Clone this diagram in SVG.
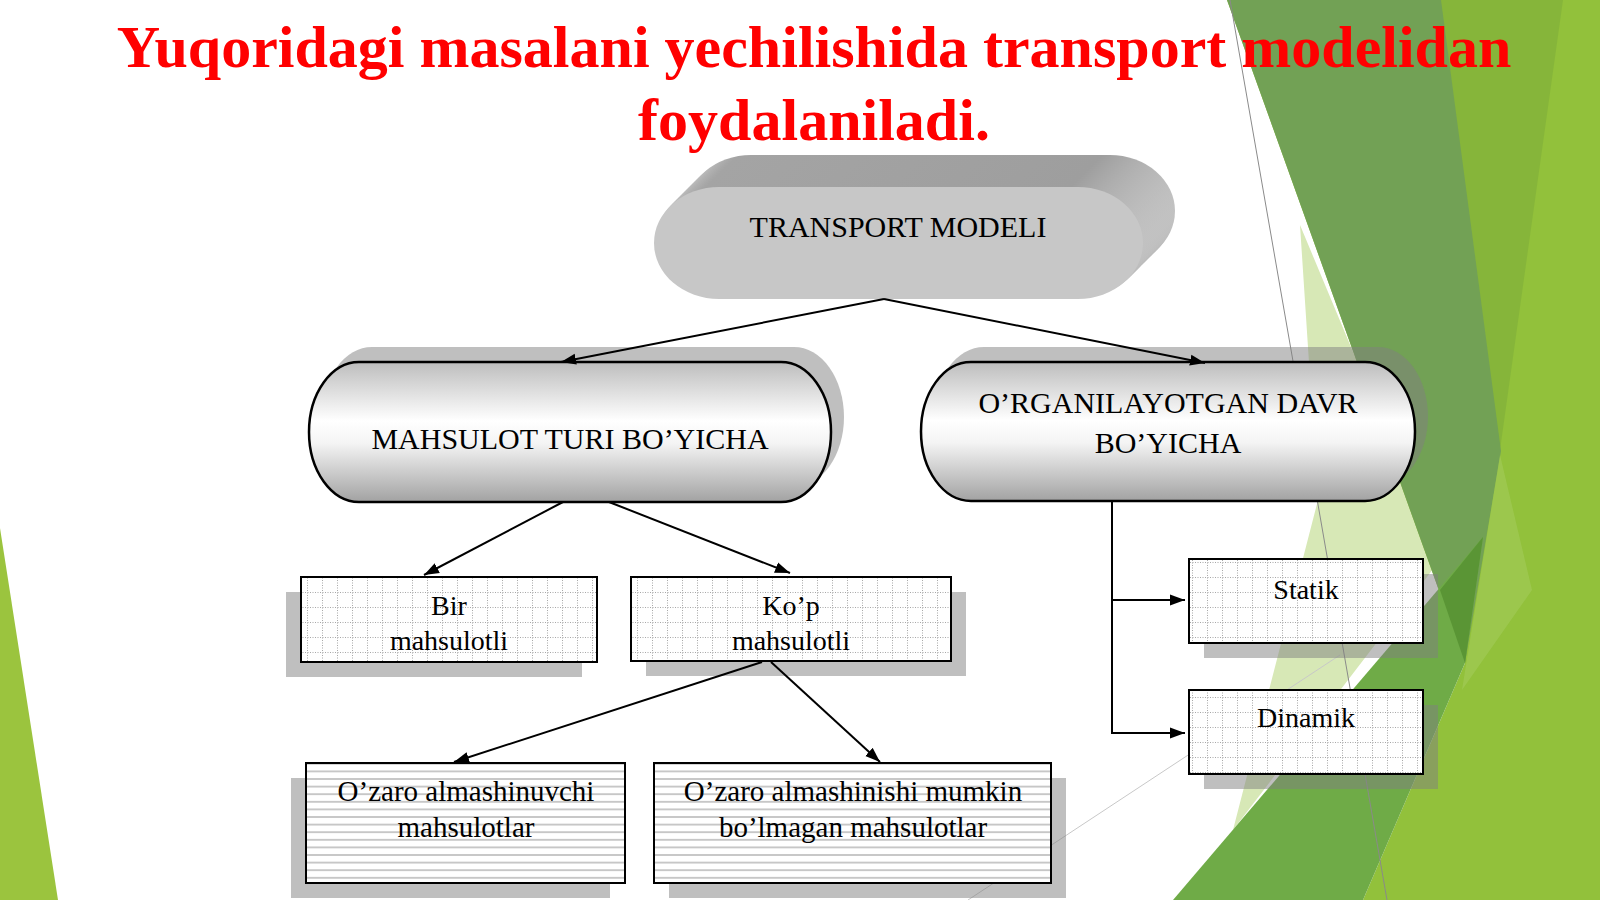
<svg xmlns="http://www.w3.org/2000/svg" width="1600" height="900" viewBox="0 0 1600 900">
<defs>
<style>
.t{font-family:"Liberation Serif","Times New Roman",serif;fill:#000;text-anchor:middle}
.e{font-size:30px}
.b{font-size:28px}
.c{font-size:29px}
.ttl{font-family:"Liberation Serif","Times New Roman",serif;font-weight:bold;font-size:60px;fill:#ff0000;text-anchor:middle}
.box{stroke:#000;stroke-width:2}
.sh{fill:#808080;fill-opacity:0.5}
.ln{stroke:#000;stroke-width:2;fill:none}
.ar{marker-end:url(#arr)}
.ex{fill:url(#ext)}
</style>
<linearGradient id="cyl" x1="0" y1="0" x2="0" y2="1">
<stop offset="0" stop-color="#bdbdbd"/>
<stop offset="0.42" stop-color="#ffffff"/>
<stop offset="0.58" stop-color="#f4f4f4"/>
<stop offset="1" stop-color="#a2a2a2"/>
</linearGradient>
<linearGradient id="ext" x1="0" y1="0" x2="1" y2="0">
<stop offset="0" stop-color="#cacaca"/>
<stop offset="0.1" stop-color="#a4a4a4"/>
<stop offset="0.85" stop-color="#9e9e9e"/>
<stop offset="1" stop-color="#c2c2c2"/>
</linearGradient>
<pattern id="grid" width="15" height="15" patternUnits="userSpaceOnUse">
<rect width="15" height="15" fill="#fff"/>
<path d="M0 7.5H15M7.5 0V15" stroke="#a8a8a8" stroke-width="1" stroke-dasharray="1 1.5"/>
</pattern>
<pattern id="lines" width="10" height="7.6" patternUnits="userSpaceOnUse">
<rect width="10" height="7.6" fill="#fff"/>
<path d="M0 3.8H10" stroke="#a6a6a6" stroke-width="1.2"/>
</pattern>
<marker id="arr" markerUnits="userSpaceOnUse" markerWidth="16" markerHeight="12" refX="15" refY="6" orient="auto">
<path d="M0 0.5L15 6L0 11.5z" fill="#000"/>
</marker>
</defs>

<g id="background">
<rect width="1600" height="900" fill="#fff"/>
<polygon points="0,528 58,900 0,900" fill="#9bc43e"/>
<polygon points="1300,225 1440,560 1233,830 1318,500" fill="#d7e8b6"/>
<polygon points="1227,0 1600,0 1600,900 1363,900 1465,663" fill="#92c13b"/>
<polygon points="1438,0 1563,0 1500,450" fill="#86b53a"/>
<polygon points="1227,0 1441,0 1501,451 1465,663" fill="#72a155"/>
<polygon points="1500,455 1532,590 1462,690" fill="#a3cb5a" fill-opacity="0.6"/>
<polygon points="1173,900 1483,537 1465,663 1363,900" fill="#6fab47"/>
<polygon points="1440,590 1483,537 1465,663" fill="#5a9535"/>
<line x1="1230" y1="0" x2="1387" y2="900" stroke="#8a8a8a" stroke-width="1"/>
<line x1="968" y1="900" x2="1340" y2="655" stroke="#c8c8c8" stroke-width="1"/>
</g>

<g id="title">
<text class="ttl" x="814" y="67">Yuqoridagi masalani yechilishida transport modelidan</text>
<text class="ttl" x="814" y="140">foydalaniladi.</text>
</g>

<g id="transport-modeli">
<rect class="ex" x="686" y="155" width="489" height="112" rx="65" ry="56"/>
<rect class="ex" x="684" y="157" width="489" height="112" rx="65" ry="56"/>
<rect class="ex" x="682" y="159" width="489" height="112" rx="65" ry="56"/>
<rect class="ex" x="680" y="161" width="489" height="112" rx="65" ry="56"/>
<rect class="ex" x="678" y="163" width="489" height="112" rx="65" ry="56"/>
<rect class="ex" x="676" y="165" width="489" height="112" rx="65" ry="56"/>
<rect class="ex" x="674" y="167" width="489" height="112" rx="65" ry="56"/>
<rect class="ex" x="672" y="169" width="489" height="112" rx="65" ry="56"/>
<rect class="ex" x="670" y="171" width="489" height="112" rx="65" ry="56"/>
<rect class="ex" x="668" y="173" width="489" height="112" rx="65" ry="56"/>
<rect class="ex" x="666" y="175" width="489" height="112" rx="65" ry="56"/>
<rect class="ex" x="664" y="177" width="489" height="112" rx="65" ry="56"/>
<rect class="ex" x="662" y="179" width="489" height="112" rx="65" ry="56"/>
<rect class="ex" x="660" y="181" width="489" height="112" rx="65" ry="56"/>
<rect class="ex" x="658" y="183" width="489" height="112" rx="65" ry="56"/>
<rect class="ex" x="656" y="185" width="489" height="112" rx="65" ry="56"/>
<rect x="654" y="187" width="489" height="112" rx="65" ry="56" fill="#c7c7c7"/>
<text class="t e" x="898" y="237">TRANSPORT MODELI</text>
</g>

<g id="mahsulot-turi">
<rect class="sh" x="322" y="347" width="522" height="140" rx="50" ry="70"/>
<rect x="309" y="362" width="522" height="140" rx="50" ry="70" fill="url(#cyl)" stroke="#000" stroke-width="2.5"/>
<text class="t e" x="570" y="449">MAHSULOT TURI BO’YICHA</text>
</g>

<g id="organilayotgan-davr">
<rect class="sh" x="934" y="347" width="494" height="139" rx="50" ry="70"/>
<rect x="921" y="362" width="494" height="139" rx="50" ry="70" fill="url(#cyl)" stroke="#000" stroke-width="2.5"/>
<text class="t e" x="1168" y="413">O’RGANILAYOTGAN DAVR</text>
<text class="t e" x="1168" y="453">BO’YICHA</text>
</g>

<g id="bir-mahsulotli">
<rect class="sh" x="286" y="592" width="296" height="85"/>
<rect class="box" x="301" y="577" width="296" height="85" fill="url(#grid)"/>
<text class="t b" x="449" y="615">Bir</text>
<text class="t b" x="449" y="650">mahsulotli</text>
</g>

<g id="kop-mahsulotli">
<rect class="sh" x="646" y="592" width="320" height="84"/>
<rect class="box" x="631" y="577" width="320" height="84" fill="url(#grid)"/>
<text class="t b" x="791" y="615">Ko’p</text>
<text class="t b" x="791" y="650">mahsulotli</text>
</g>

<g id="ozaro-almashinuvchi">
<rect class="sh" x="291" y="778" width="319" height="120"/>
<rect class="box" x="306" y="763" width="319" height="120" fill="url(#lines)"/>
<text class="t c" x="466" y="801">O’zaro almashinuvchi</text>
<text class="t c" x="466" y="837">mahsulotlar</text>
</g>

<g id="ozaro-almashinishi-mumkin-bolmagan">
<rect class="sh" x="669" y="778" width="397" height="120"/>
<rect class="box" x="654" y="763" width="397" height="120" fill="url(#lines)"/>
<text class="t c" x="853" y="801">O’zaro almashinishi mumkin</text>
<text class="t c" x="853" y="837">bo’lmagan mahsulotlar</text>
</g>

<g id="statik">
<rect class="sh" x="1204" y="574" width="234" height="84"/>
<rect class="box" x="1189" y="559" width="234" height="84" fill="url(#grid)"/>
<text class="t b" x="1306" y="599">Statik</text>
</g>

<g id="dinamik">
<rect class="sh" x="1204" y="705" width="234" height="84"/>
<rect class="box" x="1189" y="690" width="234" height="84" fill="url(#grid)"/>
<text class="t b" x="1306" y="727">Dinamik</text>
</g>

<g id="connectors">
<line class="ln ar" x1="884" y1="299" x2="561" y2="362"/>
<line class="ln ar" x1="884" y1="299" x2="1205" y2="363"/>
<line class="ln ar" x1="563" y1="502" x2="424" y2="575"/>
<line class="ln ar" x1="609" y1="502" x2="790" y2="573"/>
<line class="ln ar" x1="762" y1="662" x2="454" y2="762"/>
<line class="ln ar" x1="771" y1="662" x2="880" y2="762"/>
<polyline class="ln" points="1112,501 1112,734"/>
<line class="ln ar" x1="1111" y1="600" x2="1185" y2="600"/>
<line class="ln ar" x1="1111" y1="733" x2="1185" y2="733"/>
</g>
</svg>
